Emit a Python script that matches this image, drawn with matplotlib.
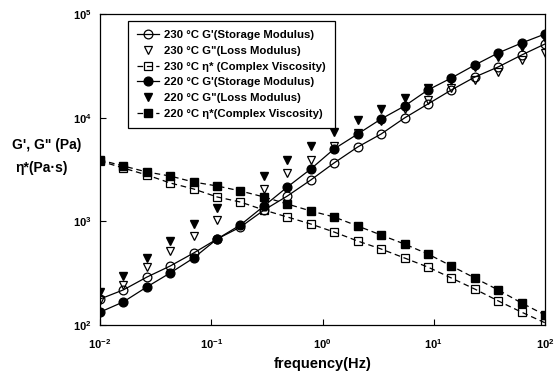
import matplotlib
matplotlib.use("Agg")
import matplotlib.pyplot as plt
import numpy as np
from matplotlib.ticker import FixedLocator, FuncFormatter, NullLocator

plt.rcParams["font.family"] = ["Liberation Sans", "DejaVu Sans"]
plt.rcParams["mathtext.fontset"] = "custom"
plt.rcParams["mathtext.rm"] = "Liberation Sans"
plt.rcParams["mathtext.bf"] = "Liberation Sans:bold"

# frequency sweep (Hz)
freq = [0.01, 0.0162, 0.0264, 0.0428, 0.0695, 0.113, 0.183, 0.298, 0.483, 0.785,
        1.27, 2.07, 3.36, 5.46, 8.86, 14.4, 23.4, 37.9, 61.6, 100.0]

# 230 C
g1_230 = [178, 218, 290, 371, 495, 676, 881, 1285, 1754, 2505,
          3655, 5210, 6950, 9930, 13550, 18490, 24660, 30830, 40180, 51400]
g2_230 = [174, 243, 362, 518, 721, 1030, np.nan, 2051, 2924, 3908,
          5333, 7112, 9290, 12130, 14790, 19320, 23070, 27540, 35970, 42070]
eta_230 = [3819, 3266, 2799, 2344, 2051, 1718, 1535, 1285, 1101, 942,
           789, 646, 541, 443, 362, 284, 222, 171, 133, 105]

# 220 C
g1_220 = [133, 167, 233, 318, 443, 676, 923, 1406, 2143, 3199,
          4989, 6950, 9705, 12940, 18490, 24150, 32210, 42070, 52480, 64120]
g2_220 = [208, 297, 443, 646, 942, 1346, np.nan, 2735, 3908, 5333,
          7278, 9484, 12130, 15490, 19320, 23070, 30830, 38460, 48080, 58610]
eta_220 = [3908, 3420, 2992, 2735, 2393, 2193, 1963, 1718, 1469, 1259,
           1102, 902, 738, 604, 484, 371, 284, 218, 163, 125]

fig = plt.figure(figsize=(5.59, 3.81), dpi=100)
ax = fig.add_axes([100 / 559, 1 - 325 / 381, 445 / 559, 311 / 381])

lw = 0.9
ms = 6.3
dash = (0, (4.5, 3))
ax.plot(freq, g1_230, color="black", lw=lw, marker="o", ms=ms, mfc="none", mec="black",
        mew=0.9, label="230 °C G'(Storage Modulus)")
ax.plot(freq, g2_230, color="black", lw=0, marker="v", ms=ms, mfc="none", mec="black",
        mew=0.9, label='230 °C G"(Loss Modulus)')
ax.plot(freq, eta_230, color="black", lw=lw, ls=dash, marker="s", ms=5.5, mfc="none",
        mec="black", mew=0.9, label="230 °C η* (Complex Viscosity)")
ax.plot(freq, g1_220, color="black", lw=lw, marker="o", ms=ms, mfc="black", mec="black",
        label="220 °C G'(Storage Modulus)")
ax.plot(freq, g2_220, color="black", lw=0, marker="v", ms=ms, mfc="black", mec="black",
        label='220 °C G"(Loss Modulus)')
ax.plot(freq, eta_220, color="black", lw=lw, ls=dash, marker="s", ms=5.5, mfc="black",
        mec="black", label="220 °C η*(Complex Viscosity)")

ax.set_xscale("log")
ax.set_yscale("log")
ax.set_xlim(1e-2, 1e2)
ax.set_ylim(1e2, 1e5)

fmt = FuncFormatter(lambda v, p: r"$\mathbf{10^{%d}}$" % round(np.log10(v)))
ax.xaxis.set_major_locator(FixedLocator([1e-2, 1e-1, 1e0, 1e1, 1e2]))
ax.yaxis.set_major_locator(FixedLocator([1e2, 1e3, 1e4, 1e5]))
ax.xaxis.set_minor_locator(NullLocator())
ax.yaxis.set_minor_locator(NullLocator())
ax.xaxis.set_major_formatter(fmt)
ax.yaxis.set_major_formatter(fmt)
ax.tick_params(direction="in", length=4, width=0.8, labelsize=8, pad=6)
ax.tick_params(axis="x", pad=9)
for s in ax.spines.values():
    s.set_linewidth(0.9)

ax.set_xlabel("frequency(Hz)", fontsize=10.5, fontweight="bold", labelpad=4)
fig.text(12 / 559, 1 - 145 / 381, "G', G\" (Pa)", fontsize=10, fontweight="bold",
         ha="left", va="center")
fig.text(15 / 559, 1 - 168 / 381, "η*(Pa·s)", fontsize=10, fontweight="bold",
         ha="left", va="center")

leg = ax.legend(loc="upper left", bbox_to_anchor=(0.063, 0.977), borderaxespad=0,
                fancybox=False, framealpha=1, edgecolor="black",
                prop={"weight": "bold", "size": 8.2}, handlelength=1.9,
                handletextpad=0.5, labelspacing=0.5, borderpad=0.8)
leg.get_frame().set_linewidth(0.9)

fig.savefig("out.png", dpi=100)
